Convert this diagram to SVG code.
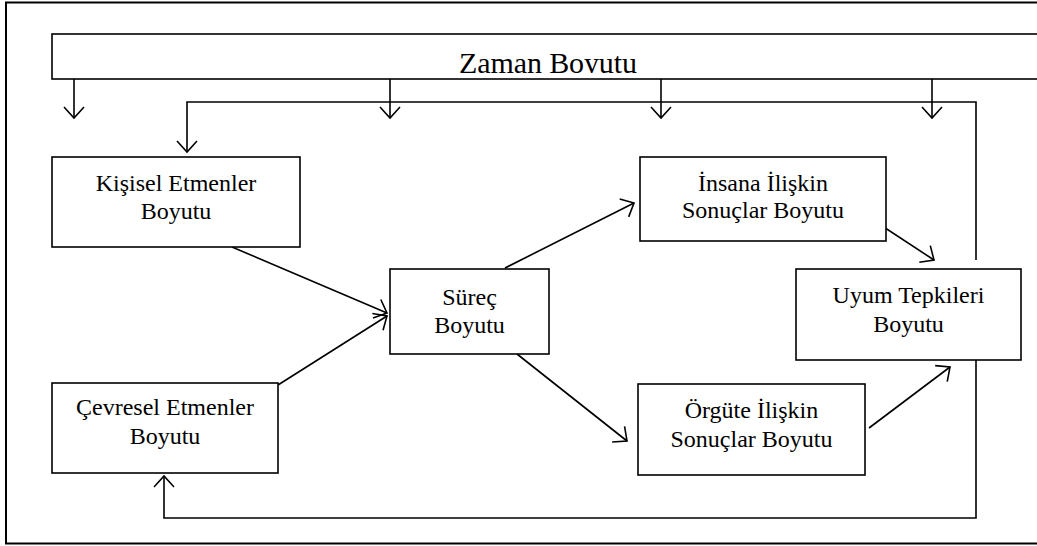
<svg xmlns="http://www.w3.org/2000/svg" width="1037" height="546" viewBox="0 0 1037 546">
<style>
.box{fill:#fff;stroke:#000;stroke-width:1.6}
.t{font-family:"Liberation Serif","Times New Roman",serif;font-size:24px;fill:#000;text-anchor:middle}
.c{fill:none;stroke:#000;stroke-width:1.6}
</style>
<defs>
<marker id="ah" markerUnits="userSpaceOnUse" viewBox="-13 -12 15 24" markerWidth="15" markerHeight="24" refX="0" refY="0" orient="auto">
<path d="M-11,-10 L0,0 L-11,10" fill="none" stroke="#000" stroke-width="1.6"/>
</marker>
<clipPath id="zc"><rect x="40" y="30" width="1000" height="43"/></clipPath>
</defs>
<rect x="6" y="2.5" width="1040" height="541" fill="none" stroke="#000" stroke-width="2"/>
<g id="zaman">
<rect class="box" x="52" y="34" width="995" height="45"/>
<text class="t" x="548" y="73" style="font-size:30px" textLength="178" clip-path="url(#zc)">Zaman Boyutu</text>
</g>
<g id="connectors">
<line class="c" x1="74" y1="79" x2="74" y2="118" marker-end="url(#ah)"/>
<line class="c" x1="390" y1="79" x2="390" y2="118" marker-end="url(#ah)"/>
<line class="c" x1="661" y1="79" x2="661" y2="118" marker-end="url(#ah)"/>
<line class="c" x1="932" y1="79" x2="932" y2="118" marker-end="url(#ah)"/>
<polyline class="c" points="976,260 976,102 187,102 187,152" marker-end="url(#ah)"/>
<polyline class="c" points="976,360 976,518 164,518 164,476" marker-end="url(#ah)"/>
<line class="c" x1="232" y1="247" x2="387" y2="313" marker-end="url(#ah)"/>
<line class="c" x1="278" y1="385" x2="387" y2="316" marker-end="url(#ah)"/>
<line class="c" x1="505" y1="268" x2="634" y2="203" marker-end="url(#ah)"/>
<line class="c" x1="517" y1="354" x2="627" y2="441" marker-end="url(#ah)"/>
<line class="c" x1="870" y1="218" x2="934" y2="260" marker-end="url(#ah)"/>
<line class="c" x1="869" y1="428" x2="950" y2="367" marker-end="url(#ah)"/>
</g>
<g id="kisisel">
<rect class="box" x="52" y="157" width="248" height="90"/>
<text class="t" x="176" y="191">Kişisel Etmenler</text>
<text class="t" x="176" y="219">Boyutu</text>
</g>
<g id="cevresel">
<rect class="box" x="52" y="383" width="226" height="90"/>
<text class="t" x="165" y="415">Çevresel Etmenler</text>
<text class="t" x="165" y="444">Boyutu</text>
</g>
<g id="surec">
<rect class="box" x="390" y="269" width="159" height="85"/>
<text class="t" x="469.5" y="305">Süreç</text>
<text class="t" x="469.5" y="333">Boyutu</text>
</g>
<g id="insana">
<rect class="box" x="640" y="157" width="246" height="84"/>
<text class="t" x="763" y="191">İnsana İlişkin</text>
<text class="t" x="763" y="218">Sonuçlar Boyutu</text>
</g>
<g id="orgute">
<rect class="box" x="638" y="384" width="227" height="91"/>
<text class="t" x="751.5" y="418">Örgüte İlişkin</text>
<text class="t" x="751.5" y="447">Sonuçlar Boyutu</text>
</g>
<g id="uyum">
<rect class="box" x="796" y="269" width="225" height="91"/>
<text class="t" x="908.5" y="303">Uyum Tepkileri</text>
<text class="t" x="908.5" y="332">Boyutu</text>
</g>
</svg>
